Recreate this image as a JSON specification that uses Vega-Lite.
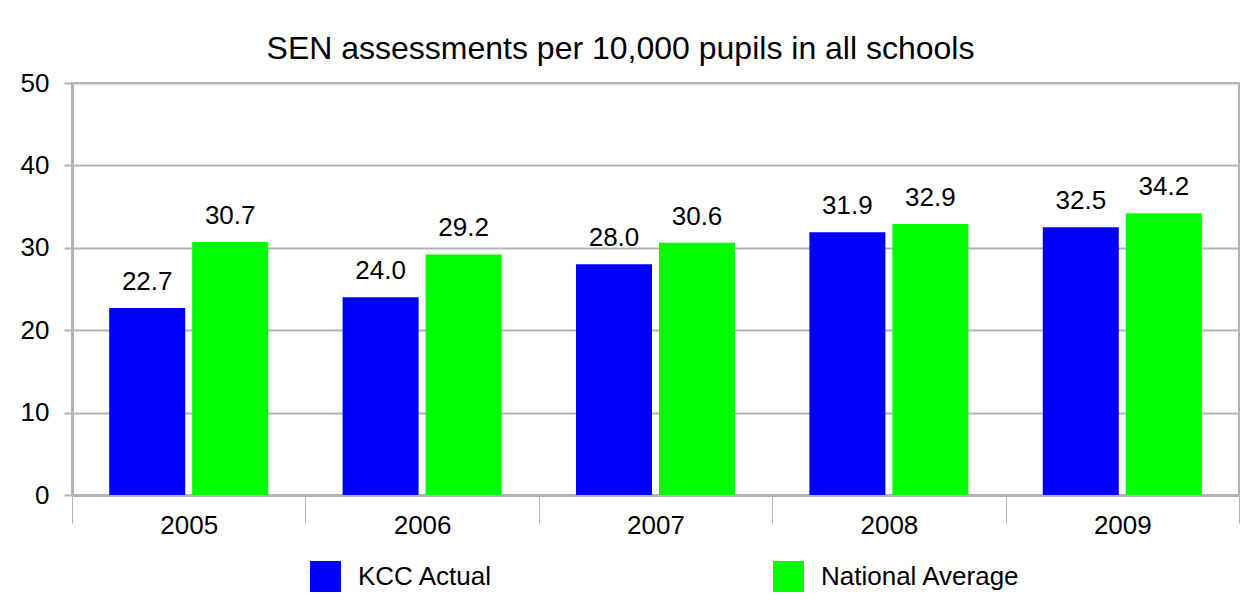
{
  "$schema": "https://vega.github.io/schema/vega-lite/v6.json",
  "width": 1167,
  "height": 412,
  "autosize": "none",
  "padding": {"left": 72, "top": 83, "right": 9, "bottom": 119},
  "background": "white",
  "title": {
    "text": "SEN assessments per 10,000 pupils in all schools",
    "font": "Liberation Sans",
    "fontSize": 32,
    "fontWeight": "normal",
    "color": "black",
    "anchor": "middle",
    "baseline": "alphabetic",
    "offset": -21,
    "dx": -35
  },
  "data": {
    "values": [
      {"year": "2005", "series": "KCC Actual", "value": 22.7},
      {"year": "2005", "series": "National Average", "value": 30.7},
      {"year": "2006", "series": "KCC Actual", "value": 24.0},
      {"year": "2006", "series": "National Average", "value": 29.2},
      {"year": "2007", "series": "KCC Actual", "value": 28.0},
      {"year": "2007", "series": "National Average", "value": 30.6},
      {"year": "2008", "series": "KCC Actual", "value": 31.9},
      {"year": "2008", "series": "National Average", "value": 32.9},
      {"year": "2009", "series": "KCC Actual", "value": 32.5},
      {"year": "2009", "series": "National Average", "value": 34.2}
    ]
  },
  "encoding": {
    "x": {
      "field": "year",
      "type": "nominal",
      "scale": {"paddingInner": 0, "paddingOuter": 0},
      "axis": {
        "title": null,
        "labelAngle": 0,
        "labelFont": "Liberation Sans",
        "labelFontSize": 26,
        "labelColor": "black",
        "labelBaseline": "alphabetic",
        "labelPadding": 10,
        "domainColor": "#b3b3b3",
        "domainWidth": 3,
        "tickColor": "#b3b3b3",
        "tickWidth": 1,
        "tickSize": 28,
        "tickBand": "extent",
        "grid": false
      }
    },
    "xOffset": {
      "field": "series",
      "type": "nominal",
      "scale": {"paddingInner": 0.0843, "paddingOuter": 0.448}
    },
    "y": {
      "field": "value",
      "type": "quantitative",
      "scale": {"domain": [0, 50], "nice": false},
      "axis": {
        "title": null,
        "values": [0, 10, 20, 30, 40, 50],
        "labelFont": "Liberation Sans",
        "labelFontSize": 26,
        "labelColor": "black",
        "labelPadding": 15,
        "domainColor": "#b3b3b3",
        "domainWidth": 3,
        "tickColor": "#b3b3b3",
        "tickWidth": 2,
        "tickSize": 8,
        "grid": true,
        "gridColor": "#b3b3b3",
        "gridWidth": 2
      }
    }
  },
  "layer": [
    {
      "mark": {"type": "bar"},
      "encoding": {
        "color": {
          "field": "series",
          "type": "nominal",
          "scale": {"domain": ["KCC Actual", "National Average"], "range": ["#0000ff", "#00ff00"]},
          "legend": {
            "title": null,
            "orient": "none",
            "direction": "horizontal",
            "legendX": 238,
            "legendY": 478,
            "symbolType": "square",
            "symbolSize": 961,
            "symbolStrokeWidth": 0,
            "symbolOpacity": 1,
            "labelFont": "Liberation Sans",
            "labelFontSize": 26,
            "labelColor": "black",
            "labelOffset": 17,
            "labelLimit": 400,
            "columnPadding": 280,
            "padding": 0
          }
        }
      }
    },
    {
      "mark": {
        "type": "text",
        "align": "center",
        "baseline": "alphabetic",
        "dy": -18,
        "font": "Liberation Sans",
        "fontSize": 26,
        "color": "black"
      },
      "encoding": {
        "text": {"field": "value", "type": "quantitative", "format": ".1f"}
      }
    }
  ],
  "config": {
    "view": {"stroke": "#b3b3b3", "strokeWidth": 2}
  }
}
